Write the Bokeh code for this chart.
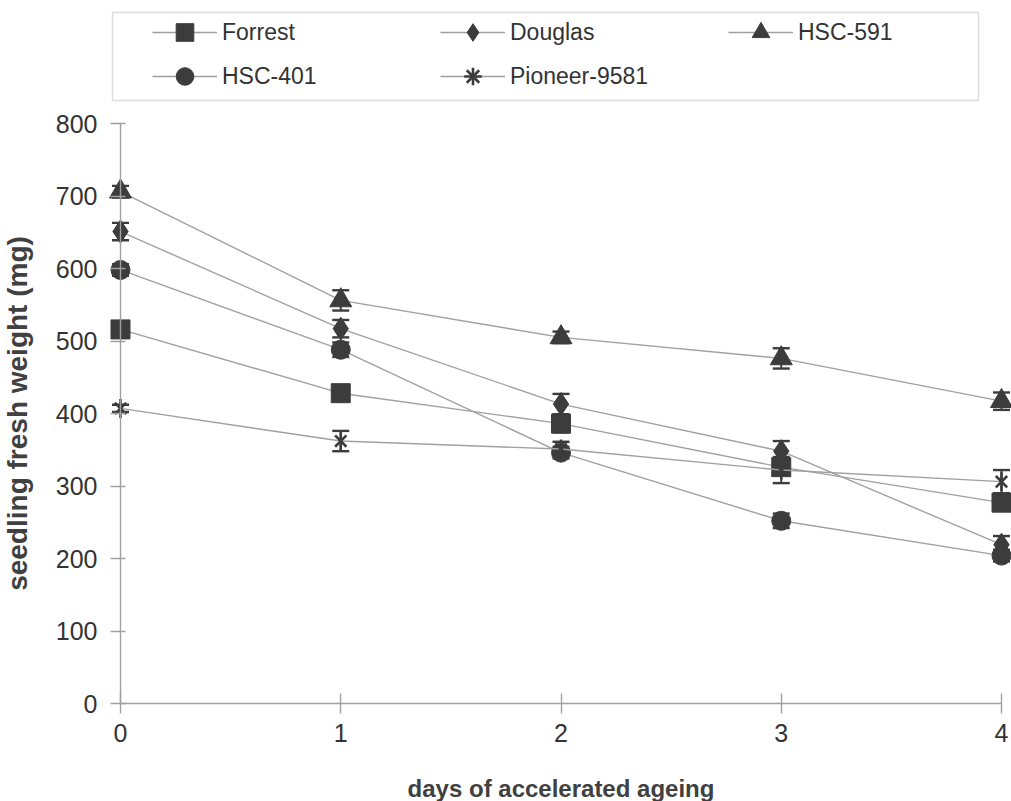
import math
from bokeh.plotting import figure
from bokeh.models import Legend, LegendItem, FixedTicker, ColumnDataSource, BoxAnnotation
from bokeh.embed import file_html
from bokeh.resources import INLINE

days = [0, 1, 2, 3, 4]
series_names = ["Forrest", "Douglas", "HSC-591", "HSC-401", "Pioneer-9581"]
forrest = [516, 428, 386, 326, 277]
douglas = [651, 517, 413, 348, 219]
hsc591 = [706, 556, 505, 476, 417]
hsc401 = [598, 488, 346, 252, 204]
pioneer = [407, 362, 351, 322, 306]
forrest_err = [8, 8, 12, 10, 8]
douglas_err = [12, 12, 14, 14, 12]
hsc591_err = [8, 14, 8, 14, 12]
hsc401_err = [8, 10, 8, 10, 8]
pioneer_err = [5, 14, 10, 18, 16]
y_ticks = [0, 100, 200, 300, 400, 500, 600, 700, 800]
x_ticks = [0, 1, 2, 3, 4]

FONT = "Liberation Sans"
LINE = "#a0a0a0"
MARK = "#3c3c3c"

W, H = 1011, 801
# layout: x=0 at 120px, 220.25 px per day; y=0 at 703px, 0.725 px per mg
XPX0, XPPU = 120.0, 220.25
YPX0, YPPU = 703.0, 0.725


def xd(px):
    return (px - XPX0) / XPPU


def yd(py):
    return (YPX0 - py) / YPPU


p = figure(width=W, height=H, output_backend="svg", toolbar_location=None,
           x_range=(xd(0), xd(W)), y_range=(yd(H), yd(0)),
           min_border_left=0, min_border_right=0, min_border_top=0, min_border_bottom=0)
p.title.visible = False
p.outline_line_color = None
p.xgrid.grid_line_color = None
p.ygrid.grid_line_color = None
p.background_fill_color = "white"
p.border_fill_color = "white"

for ax in (p.xaxis[0], p.yaxis[0]):
    ax.axis_line_color = LINE
    ax.axis_line_width = 1.4
    ax.major_tick_line_color = LINE
    ax.major_tick_line_width = 1.4
    ax.minor_tick_line_color = None
    ax.major_label_text_font = FONT
    ax.major_label_text_font_size = "25px"
    ax.major_label_text_color = "#333333"
    ax.axis_label_text_font = FONT
    ax.axis_label_text_font_style = "bold"
    ax.axis_label_text_color = "#404040"

p.xaxis.fixed_location = 0
p.yaxis.fixed_location = 0
p.xaxis.bounds = (0, 4)
p.yaxis.bounds = (0, 800)
p.xaxis.ticker = FixedTicker(ticks=x_ticks)
p.yaxis.ticker = FixedTicker(ticks=y_ticks)
p.xaxis.major_tick_in = 10
p.xaxis.major_tick_out = 10
p.xaxis.major_label_standoff = 10
p.xaxis.axis_label = "days of accelerated ageing"
p.xaxis.axis_label_text_font_size = "24px"
p.xaxis.axis_label_standoff = 30
p.yaxis.major_tick_in = 5
p.yaxis.major_tick_out = 10
p.yaxis.major_label_standoff = 13
p.yaxis.axis_label = "seedling fresh weight (mg)"
p.yaxis.axis_label_text_font_size = "28px"
p.yaxis.axis_label_standoff = 20

all_vals = [forrest, douglas, hsc591, hsc401, pioneer]
all_err = [forrest_err, douglas_err, hsc591_err, hsc401_err, pioneer_err]
markers = ["square", "diamond", "triangle", "circle", "x"]
sizes = [19, 23, 22, 19, 16]

items = []
for name, vals, errs, mk, sz in zip(series_names, all_vals, all_err, markers, sizes):
    src = ColumnDataSource(dict(x=days, y=vals,
                                lo=[v - e for v, e in zip(vals, errs)],
                                hi=[v + e for v, e in zip(vals, errs)]))
    ln = p.line("x", "y", source=src, line_color=LINE, line_width=1.4)
    p.segment("x", "lo", "x", "hi", source=src, line_color=MARK, line_width=2)
    p.scatter("x", "lo", source=src, marker="dash", size=17, line_color=MARK, line_width=2.4)
    p.scatter("x", "hi", source=src, marker="dash", size=17, line_color=MARK, line_width=2.4)
    rs = [ln]
    if mk == "x":
        sc = p.scatter("x", "y", source=src, marker="x", size=sz, line_color=MARK, line_width=2.6)
        p.scatter("x", "y", source=src, marker="dash", size=19, angle=math.pi / 2,
                  line_color=MARK, line_width=2.6)
        # legend-only vertical stroke: NaN point is never drawn in the plot
        leg_src = ColumnDataSource(dict(x=[float("nan")], y=[float("nan")]))
        sc3 = p.scatter("x", "y", source=leg_src, marker="cross", size=19,
                        line_color=MARK, line_width=2.6)
        rs += [sc, sc3]
    else:
        sc = p.scatter("x", "y", source=src, marker=mk, size=sz, fill_color=MARK,
                       line_color=MARK, line_width=1)
        rs.append(sc)
    items.append(LegendItem(label=name, renderers=rs))

box = BoxAnnotation(left=xd(112), right=xd(978), top=yd(12), bottom=yd(100),
                    fill_color="white", fill_alpha=1.0,
                    line_color="#8c8c8c", line_width=1.4)
p.add_layout(box)

legend = Legend(items=items, location=(152, H - 98),
                orientation="horizontal", ncols=3,
                glyph_width=65, glyph_height=44, label_width=218, label_standoff=5,
                spacing=0, padding=0, margin=0,
                label_text_font=FONT, label_text_font_size="23px", label_text_color="#333333",
                border_line_color=None, background_fill_alpha=0.0)
p.add_layout(legend, "center")

open("out.html", "w").write(file_html(p, INLINE))
